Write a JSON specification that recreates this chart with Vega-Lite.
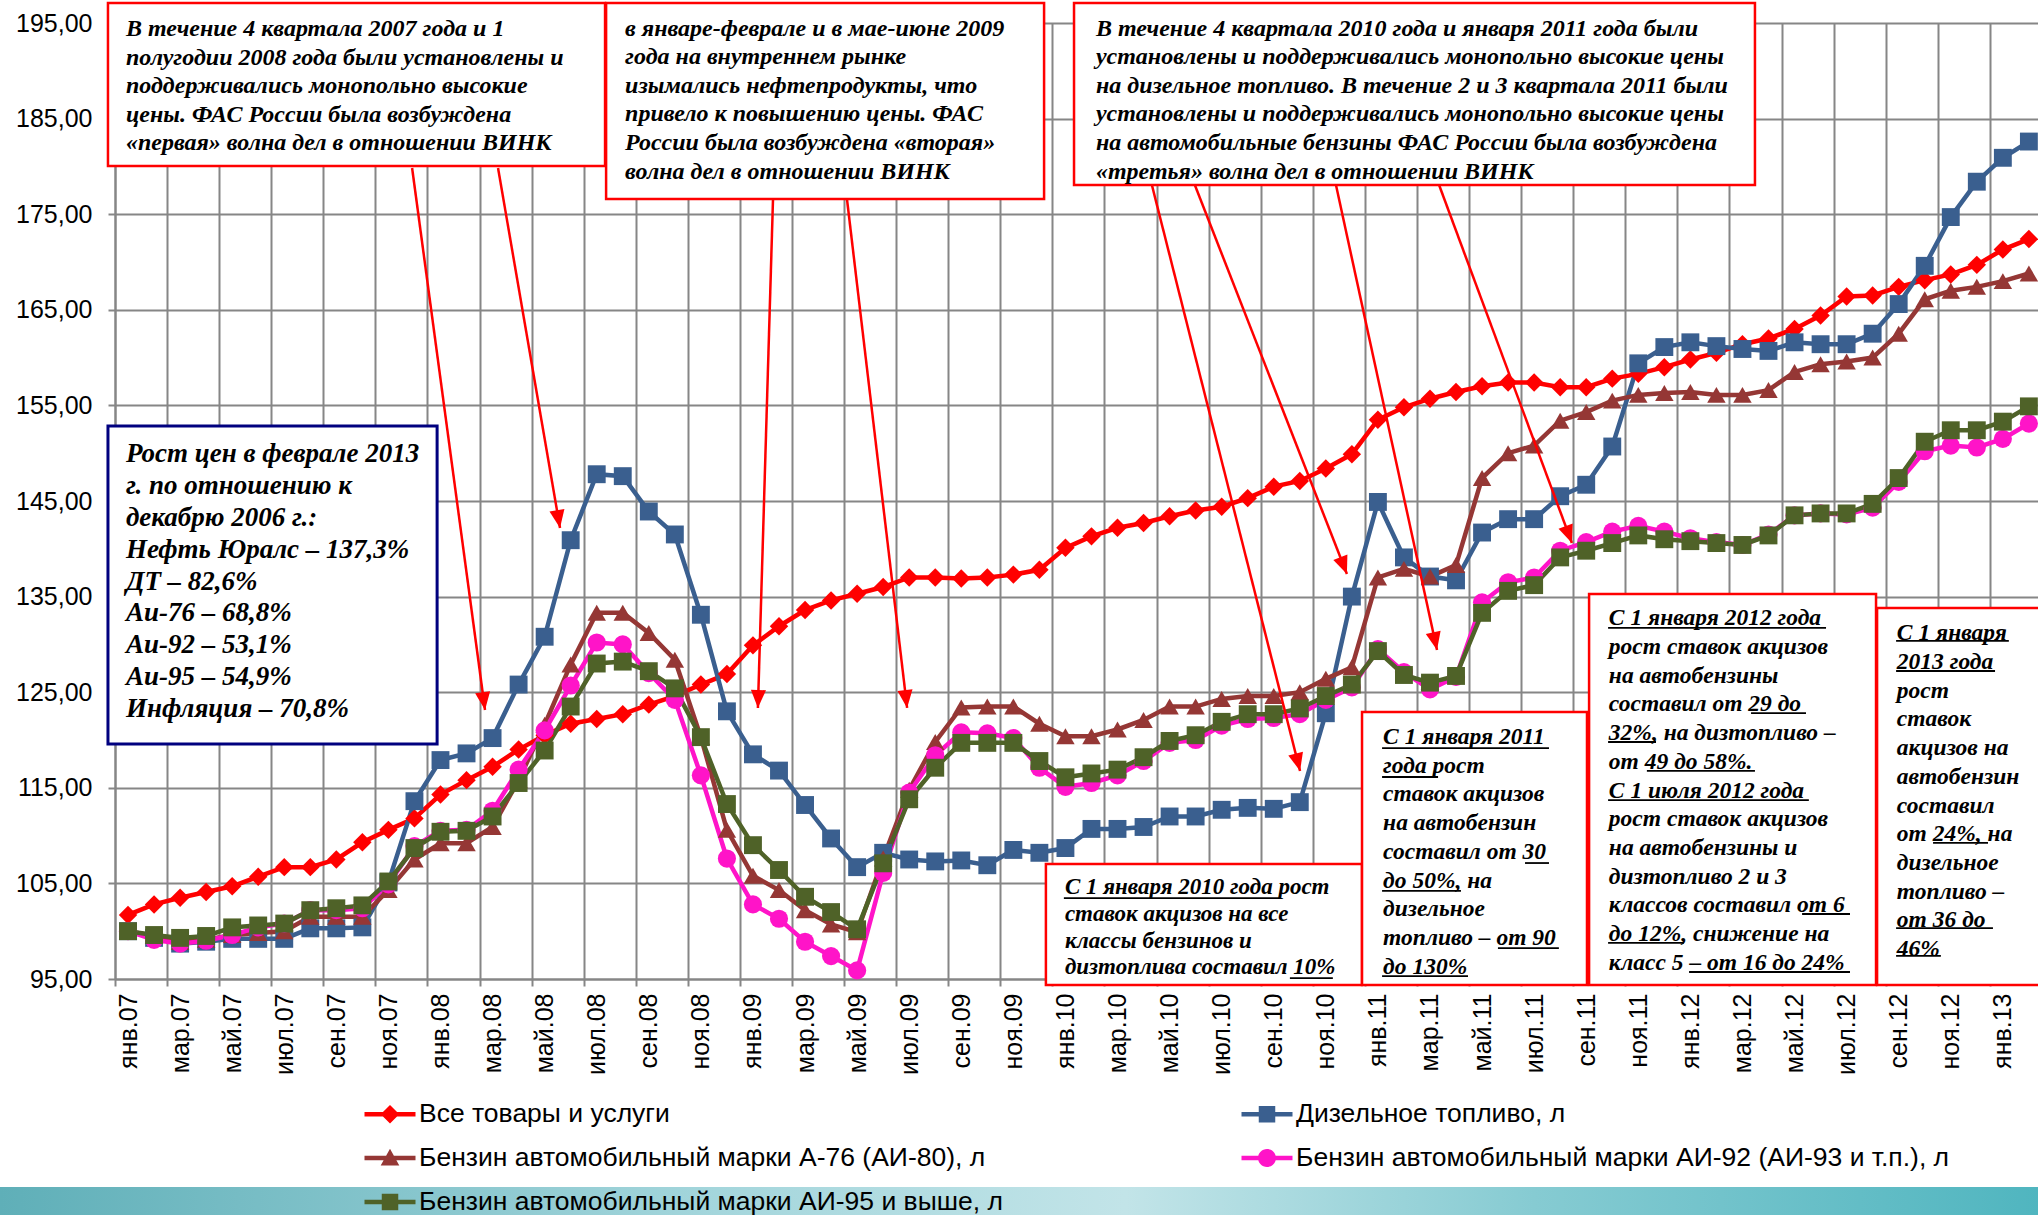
{
  "$schema": "https://vega.github.io/schema/vega-lite/v6.json",
  "width": 1923,
  "height": 956,
  "autosize": "none",
  "padding": {"left": 115, "top": 23, "right": 0, "bottom": 236},
  "background": "white",
  "config": {
    "view": {"stroke": null},
    "font": "Liberation Sans",
    "legend": {
      "orient": "none", "legendX": 260, "legendY": 1076, "columns": 2,
      "columnPadding": 238, "rowPadding": 15, "symbolSize": 900, "labelOffset": 14,
      "labelFontSize": 26.5, "labelFont": "Liberation Sans", "labelColor": "black",
      "padding": 0, "labelLimit": 1000, "zindex": 2
    }
  },
  "datasets": {
    "names": [
      {"k": "cpi", "name": "Все товары и услуги", "z": 0},
      {"k": "dt", "name": "Дизельное топливо, л", "z": 1},
      {"k": "a76", "name": "Бензин автомобильный марки А-76 (АИ-80), л", "z": 2},
      {"k": "a92", "name": "Бензин автомобильный марки АИ-92 (АИ-93 и т.п.), л", "z": 3},
      {"k": "a95", "name": "Бензин автомобильный марки АИ-95 и выше, л", "z": 4}
    ],
    "prices": [
      {"x":0,"cpi":101.7,"dt":100.0,"a76":100.0,"a92":100.0,"a95":100.0},
      {"x":1,"cpi":102.8,"dt":99.3,"a76":99.5,"a92":99.1,"a95":99.6},
      {"x":2,"cpi":103.5,"dt":98.7,"a76":98.9,"a92":98.7,"a95":99.3},
      {"x":3,"cpi":104.1,"dt":98.9,"a76":99.1,"a92":99.0,"a95":99.5},
      {"x":4,"cpi":104.7,"dt":99.2,"a76":99.6,"a92":99.6,"a95":100.4},
      {"x":5,"cpi":105.7,"dt":99.2,"a76":99.8,"a92":100.4,"a95":100.6},
      {"x":6,"cpi":106.7,"dt":99.2,"a76":100.0,"a92":100.8,"a95":100.8},
      {"x":7,"cpi":106.7,"dt":100.3,"a76":101.5,"a92":102.2,"a95":102.2},
      {"x":8,"cpi":107.5,"dt":100.3,"a76":101.5,"a92":102.2,"a95":102.4},
      {"x":9,"cpi":109.3,"dt":100.4,"a76":101.5,"a92":102.4,"a95":102.7},
      {"x":10,"cpi":110.6,"dt":105.1,"a76":104.3,"a92":104.9,"a95":105.2},
      {"x":11,"cpi":111.8,"dt":113.6,"a76":107.5,"a92":108.9,"a95":108.7},
      {"x":12,"cpi":114.3,"dt":117.9,"a76":109.2,"a92":110.5,"a95":110.4},
      {"x":13,"cpi":115.8,"dt":118.6,"a76":109.2,"a92":110.6,"a95":110.5},
      {"x":14,"cpi":117.2,"dt":120.2,"a76":110.9,"a92":112.6,"a95":112.0},
      {"x":15,"cpi":119.0,"dt":125.8,"a76":115.8,"a92":116.9,"a95":115.5},
      {"x":16,"cpi":120.5,"dt":130.8,"a76":121.6,"a92":121.0,"a95":118.9},
      {"x":17,"cpi":121.7,"dt":140.9,"a76":127.9,"a92":125.7,"a95":123.5},
      {"x":18,"cpi":122.2,"dt":147.8,"a76":133.3,"a92":130.2,"a95":128.0},
      {"x":19,"cpi":122.7,"dt":147.6,"a76":133.3,"a92":130.0,"a95":128.2},
      {"x":20,"cpi":123.7,"dt":143.9,"a76":131.2,"a92":127.0,"a95":127.2},
      {"x":21,"cpi":124.6,"dt":141.5,"a76":128.4,"a92":124.2,"a95":125.4},
      {"x":22,"cpi":125.8,"dt":133.1,"a76":120.3,"a92":116.3,"a95":120.3},
      {"x":23,"cpi":126.9,"dt":123.0,"a76":110.6,"a92":107.6,"a95":113.3},
      {"x":24,"cpi":129.9,"dt":118.5,"a76":105.8,"a92":102.8,"a95":109.0},
      {"x":25,"cpi":131.9,"dt":116.8,"a76":104.3,"a92":101.3,"a95":106.4},
      {"x":26,"cpi":133.6,"dt":113.2,"a76":102.2,"a92":98.9,"a95":103.6},
      {"x":27,"cpi":134.6,"dt":109.7,"a76":100.7,"a92":97.4,"a95":102.0},
      {"x":28,"cpi":135.3,"dt":106.7,"a76":99.9,"a92":95.9,"a95":100.2},
      {"x":29,"cpi":136.0,"dt":108.2,"a76":107.6,"a92":106.1,"a95":107.1},
      {"x":30,"cpi":137.0,"dt":107.5,"a76":114.8,"a92":114.5,"a95":113.8},
      {"x":31,"cpi":137.0,"dt":107.3,"a76":119.8,"a92":118.4,"a95":117.1},
      {"x":32,"cpi":136.9,"dt":107.4,"a76":123.4,"a92":120.8,"a95":119.7},
      {"x":33,"cpi":137.0,"dt":106.9,"a76":123.5,"a92":120.7,"a95":119.7},
      {"x":34,"cpi":137.3,"dt":108.5,"a76":123.5,"a92":120.2,"a95":119.7},
      {"x":35,"cpi":137.8,"dt":108.2,"a76":121.7,"a92":117.1,"a95":117.8},
      {"x":36,"cpi":140.1,"dt":108.7,"a76":120.4,"a92":115.1,"a95":116.1},
      {"x":37,"cpi":141.3,"dt":110.7,"a76":120.4,"a92":115.5,"a95":116.5},
      {"x":38,"cpi":142.2,"dt":110.7,"a76":121.1,"a92":116.3,"a95":116.9},
      {"x":39,"cpi":142.7,"dt":110.9,"a76":122.1,"a92":117.8,"a95":118.2},
      {"x":40,"cpi":143.4,"dt":112.0,"a76":123.5,"a92":119.7,"a95":119.9},
      {"x":41,"cpi":144.0,"dt":112.0,"a76":123.5,"a92":120.0,"a95":120.5},
      {"x":42,"cpi":144.4,"dt":112.7,"a76":124.3,"a92":121.5,"a95":121.9},
      {"x":43,"cpi":145.3,"dt":112.9,"a76":124.6,"a92":122.2,"a95":122.7},
      {"x":44,"cpi":146.5,"dt":112.8,"a76":124.6,"a92":122.3,"a95":122.7},
      {"x":45,"cpi":147.1,"dt":113.5,"a76":125.0,"a92":122.7,"a95":123.3},
      {"x":46,"cpi":148.4,"dt":122.8,"a76":126.4,"a92":124.2,"a95":124.6},
      {"x":47,"cpi":149.9,"dt":135.0,"a76":127.6,"a92":125.5,"a95":125.8},
      {"x":48,"cpi":153.5,"dt":144.9,"a76":137.0,"a92":129.5,"a95":129.3},
      {"x":49,"cpi":154.8,"dt":139.1,"a76":137.9,"a92":127.1,"a95":126.8},
      {"x":50,"cpi":155.7,"dt":137.1,"a76":137.1,"a92":125.3,"a95":126.0},
      {"x":51,"cpi":156.4,"dt":136.7,"a76":138.3,"a92":126.6,"a95":126.7},
      {"x":52,"cpi":157.0,"dt":141.7,"a76":147.4,"a92":134.4,"a95":133.3},
      {"x":53,"cpi":157.4,"dt":143.1,"a76":150.0,"a92":136.5,"a95":135.6},
      {"x":54,"cpi":157.4,"dt":143.1,"a76":150.8,"a92":137.0,"a95":136.2},
      {"x":55,"cpi":156.9,"dt":145.5,"a76":153.4,"a92":139.8,"a95":139.1},
      {"x":56,"cpi":156.9,"dt":146.7,"a76":154.3,"a92":140.7,"a95":139.8},
      {"x":57,"cpi":157.8,"dt":150.7,"a76":155.5,"a92":141.8,"a95":140.6},
      {"x":58,"cpi":158.3,"dt":159.4,"a76":156.1,"a92":142.4,"a95":141.4},
      {"x":59,"cpi":159.0,"dt":161.1,"a76":156.3,"a92":141.8,"a95":141.0},
      {"x":60,"cpi":159.8,"dt":161.6,"a76":156.4,"a92":141.1,"a95":140.8},
      {"x":61,"cpi":160.5,"dt":161.2,"a76":156.1,"a92":140.7,"a95":140.6},
      {"x":62,"cpi":161.4,"dt":160.9,"a76":156.1,"a92":140.4,"a95":140.4},
      {"x":63,"cpi":162.0,"dt":160.7,"a76":156.6,"a92":141.5,"a95":141.4},
      {"x":64,"cpi":163.0,"dt":161.6,"a76":158.5,"a92":143.5,"a95":143.5},
      {"x":65,"cpi":164.4,"dt":161.4,"a76":159.3,"a92":143.7,"a95":143.7},
      {"x":66,"cpi":166.4,"dt":161.4,"a76":159.6,"a92":143.6,"a95":143.7},
      {"x":67,"cpi":166.5,"dt":162.5,"a76":160.0,"a92":144.3,"a95":144.7},
      {"x":68,"cpi":167.4,"dt":165.6,"a76":162.5,"a92":147.0,"a95":147.4},
      {"x":69,"cpi":168.1,"dt":169.6,"a76":166.1,"a92":150.2,"a95":151.2},
      {"x":70,"cpi":168.7,"dt":174.7,"a76":167.0,"a92":150.8,"a95":152.4},
      {"x":71,"cpi":169.7,"dt":178.4,"a76":167.4,"a92":150.6,"a95":152.4},
      {"x":72,"cpi":171.3,"dt":180.9,"a76":168.0,"a92":151.5,"a95":153.3},
      {"x":73,"cpi":172.4,"dt":182.6,"a76":168.8,"a92":153.1,"a95":154.9}
    ],
    "band": [
      {"x": -4.92, "x2": 73.66, "y": 73.24, "y2": 69.5}
    ],
    "boxes": [
      {"k": "b1", "x": -0.77, "x2": 18.32, "y": 197.09, "y2": 180.04},
      {"k": "b2", "x": 18.36, "x2": 35.18, "y": 197.09, "y2": 176.59},
      {"k": "b3", "x": 36.33, "x2": 62.48, "y": 197.09, "y2": 178.05},
      {"k": "stat", "x": -0.77, "x2": 11.87, "y": 152.85, "y2": 119.58},
      {"k": "b5", "x": 35.25, "x2": 47.39, "y": 107.03, "y2": 94.37},
      {"k": "b6", "x": 47.39, "x2": 56.03, "y": 122.93, "y2": 94.37},
      {"k": "b7", "x": 56.11, "x2": 67.13, "y": 135.27, "y2": 94.37},
      {"k": "b8", "x": 67.17, "x2": 73.66, "y": 133.81, "y2": 94.37}
    ],
    "arrows": [
      {"x": 10.91, "y": 179.83, "x2": 13.71, "y2": 123.14},
      {"x": 14.21, "y": 179.83, "x2": 16.59, "y2": 142.18},
      {"x": 24.77, "y": 176.59, "x2": 24.19, "y2": 123.35},
      {"x": 27.61, "y": 176.59, "x2": 29.92, "y2": 123.35},
      {"x": 39.32, "y": 178.05, "x2": 45.01, "y2": 116.76},
      {"x": 40.97, "y": 178.05, "x2": 46.81, "y2": 137.36},
      {"x": 46.39, "y": 178.05, "x2": 50.27, "y2": 129.41},
      {"x": 50.35, "y": 178.05, "x2": 55.45, "y2": 140.61}
    ],
    "underlines": [
      {"x": 35.94, "x2": 44.20, "y": 103.47},
      {"x": 44.62, "x2": 46.27, "y": 95.10},
      {"x": 48.16, "x2": 54.57, "y": 119.16},
      {"x": 48.16, "x2": 50.31, "y": 116.13},
      {"x": 53.65, "x2": 54.57, "y": 107.13},
      {"x": 48.16, "x2": 51.19, "y": 104.21},
      {"x": 52.61, "x2": 54.95, "y": 98.24},
      {"x": 48.16, "x2": 51.46, "y": 95.31},
      {"x": 56.84, "x2": 65.21, "y": 131.72},
      {"x": 62.33, "x2": 64.44, "y": 122.82},
      {"x": 56.84, "x2": 58.68, "y": 119.79},
      {"x": 58.33, "x2": 62.48, "y": 116.76},
      {"x": 56.84, "x2": 64.55, "y": 113.72},
      {"x": 64.29, "x2": 66.13, "y": 101.80},
      {"x": 56.84, "x2": 59.75, "y": 98.77},
      {"x": 59.95, "x2": 66.13, "y": 95.73},
      {"x": 67.90, "x2": 72.23, "y": 130.36},
      {"x": 67.90, "x2": 71.70, "y": 127.22},
      {"x": 69.32, "x2": 71.43, "y": 109.23},
      {"x": 67.90, "x2": 71.62, "y": 100.33},
      {"x": 67.90, "x2": 69.62, "y": 97.41}
    ],
    "notes": [
      {"g": "top", "x": -0.08, "y": 194.37, "t": "В течение 4 квартала 2007 года и 1\nполугодии 2008 года были установлены и\nподдерживались монопольно высокие\nцены. ФАС России была возбуждена\n«первая» волна дел в отношении ВИНК"},
      {"g": "top", "x": 19.09, "y": 194.41, "t": "в январе-феврале и в мае-июне 2009\nгода на внутреннем рынке\nизымались нефтепродукты, что\nпривело к повышению цены. ФАС\nРоссии была возбуждена  «вторая»\nволна дел в отношении ВИНК"},
      {"g": "top", "x": 37.17, "y": 194.41, "t": "В течение 4 квартала 2010 года и января 2011 года были\nустановлены и поддерживались монопольно высокие цены\nна дизельное топливо. В течение 2 и 3 квартала 2011 были\nустановлены и поддерживались монопольно высокие цены\nна автомобильные бензины ФАС России была возбуждена\n«третья» волна дел в отношении ВИНК"},
      {"g": "stat", "x": -0.08, "y": 149.92, "t": "Рост цен в феврале 2013\nг. по отношению к\nдекабрю 2006 г.:\nНефть Юралс – 137,3%\nДТ – 82,6%\nАи-76 – 68,8%\nАи-92 – 53,1%\nАи-95 – 54,9%\nИнфляция – 70,8%"},
      {"g": "low5", "x": 35.98, "y": 104.62, "t": "С 1 января 2010 года рост\nставок акцизов на все\nклассы бензинов и\nдизтоплива составил 10%"},
      {"g": "low", "x": 48.2, "y": 120.31, "t": "С 1 января 2011\nгода  рост\nставок акцизов\nна автобензин\nсоставил от 30\nдо 50%, на\nдизельное\nтопливо – от 90\nдо 130%"},
      {"g": "low", "x": 56.87, "y": 132.72, "t": "С 1 января 2012 года\nрост ставок акцизов\nна автобензины\nсоставил от 29 до\n32%, на дизтопливо –\nот 49 до 58%.\nС 1 июля 2012 года\nрост ставок акцизов\nна автобензины и\nдизтопливо 2 и 3\nклассов составил от 6\nдо 12%, снижение на\nкласс 5 – от 16 до 24%"},
      {"g": "low", "x": 67.93, "y": 131.15, "t": "С 1 января\n2013 года\nрост\nставок\nакцизов на\nавтобензин\nсоставил\nот 24%, на\nдизельное\nтопливо –\nот  36 до\n46%"}
    ]
  },
  "encoding": {
    "x": {
      "field": "x", "type": "quantitative", "title": null,
      "scale": {"domain": [-0.5, 73.35], "nice": false, "zero": false},
      "axis": {
        "values": [0,2,4,6,8,10,12,14,16,18,20,22,24,26,28,30,32,34,36,38,40,42,44,46,48,50,52,54,56,58,60,62,64,66,68,70,72],
        "labelExpr": "['янв.','мар.','май.','июл.','сен.','ноя.'][(datum.value % 12) / 2] + (floor(datum.value / 12) + 7 < 10 ? '0' : '') + (floor(datum.value / 12) + 7)",
        "labelAngle": -90, "labelFontSize": 25, "labelColor": "black", "labelFont": "Liberation Sans",
        "tickOffset": -13.02, "labelOffset": 13.02, "labelPadding": 7,
        "grid": true, "gridColor": "#868686", "gridWidth": 2,
        "domainColor": "#868686", "domainWidth": 2, "tickColor": "#868686", "tickWidth": 2, "tickSize": 7,
        "labelOverlap": false, "labelFlush": false, "labelBound": false
      }
    },
    "y": {
      "field": "y", "type": "quantitative", "title": null,
      "scale": {"domain": [95, 195], "nice": false, "zero": false},
      "axis": {
        "values": [95,105,115,125,135,145,155,165,175,185,195],
        "labelExpr": "replace(format(datum.value, '.2f'), '.', ',')",
        "labelFontSize": 25, "labelColor": "black", "labelFont": "Liberation Sans", "labelPadding": 16,
        "grid": true, "gridColor": "#868686", "gridWidth": 2,
        "domainColor": "#868686", "domainWidth": 2, "tickColor": "#868686", "tickWidth": 2, "tickSize": 7,
        "labelOverlap": false, "labelFlush": false, "labelBound": false
      }
    }
  },
  "layer": [
    {
      "data": {"name": "band"},
      "mark": {
        "type": "rect", "clip": false, "strokeWidth": 0,
        "fill": {"gradient": "linear", "x1": 0, "y1": 0, "x2": 1, "y2": 0,
          "stops": [
            {"offset": 0, "color": "#5FAFB8"},
            {"offset": 0.35, "color": "#A4D6DC"},
            {"offset": 0.55, "color": "#C2E4E8"},
            {"offset": 0.75, "color": "#86CBD2"},
            {"offset": 1, "color": "#4FB5BF"}
          ]}
      },
      "encoding": {
        "x2": {"field": "x2"},
        "y2": {"field": "y2"}
      }
    },
    {
      "data": {"name": "boxes"},
      "mark": {"type": "rect", "fill": "white", "clip": false},
      "encoding": {
        "x2": {"field": "x2"},
        "y2": {"field": "y2"},
        "stroke": {"condition": {"test": "datum.k === 'stat'", "value": "#00007F"}, "value": "#FF0000"},
        "strokeWidth": {"condition": {"test": "datum.k === 'stat'", "value": 3}, "value": 2.5}
      }
    },
    {
      "data": {"name": "prices"},
      "transform": [
        {"fold": ["cpi", "dt", "a76", "a92", "a95"], "as": ["k", "y"]},
        {"lookup": "k", "from": {"data": {"name": "names"}, "key": "k", "fields": ["name", "z"]}}
      ],
      "encoding": {
        "color": {
          "field": "name", "type": "nominal",
          "scale": {
            "domain": ["Все товары и услуги", "Бензин автомобильный марки А-76 (АИ-80), л", "Бензин автомобильный марки АИ-95 и выше, л", "Дизельное топливо, л", "Бензин автомобильный марки АИ-92 (АИ-93 и т.п.), л"],
            "range": ["#FF0000", "#953735", "#4F6228", "#3A5F8F", "#FF14C8"]
          },
          "legend": {
            "title": null,
            "encode": {"symbols": {"update": {
              "shape": {"signal": "indexof(datum.value, 'Все') === 0 ? 'M-1.7,-0.15H1.7V0.15H-1.7Z M0,-0.62L0.62,0L0,0.62L-0.62,0Z' : indexof(datum.value, 'А-76') >= 0 ? 'M-1.7,-0.15H1.7V0.15H-1.7Z M0,-0.62L0.62,0.5H-0.62Z' : indexof(datum.value, 'АИ-92') >= 0 ? 'M-1.7,-0.15H1.7V0.15H-1.7Z M-0.6,0A0.6,0.6 0 1,1 0.6,0A0.6,0.6 0 1,1 -0.6,0Z' : 'M-1.7,-0.15H1.7V0.15H-1.7Z M-0.55,-0.55H0.55V0.55H-0.55Z'"},
              "fill": {"signal": "scale('color', datum.value)"},
              "stroke": {"value": "transparent"},
              "strokeWidth": {"value": 0},
              "opacity": {"value": 1}
            }}}
          }
        }
      },
      "layer": [
        {"mark": {"type": "line", "strokeWidth": 4.5}},
        {"transform": [{"filter": "datum.k === 'cpi'"}], "mark": {"type": "point", "shape": "diamond", "filled": true, "opacity": 1, "size": 340, "strokeWidth": 0}},
        {"transform": [{"filter": "datum.k === 'dt'"}], "mark": {"type": "point", "shape": "square", "filled": true, "opacity": 1, "size": 320, "strokeWidth": 0}},
        {"transform": [{"filter": "datum.k === 'a76'"}], "mark": {"type": "point", "shape": "triangle-up", "filled": true, "opacity": 1, "size": 340, "strokeWidth": 0}},
        {"transform": [{"filter": "datum.k === 'a92'"}], "mark": {"type": "point", "shape": "circle", "filled": true, "opacity": 1, "size": 330, "strokeWidth": 0}},
        {"transform": [{"filter": "datum.k === 'a95'"}], "mark": {"type": "point", "shape": "square", "filled": true, "opacity": 1, "size": 320, "strokeWidth": 0}}
      ]
    },
    {
      "data": {"name": "arrows"},
      "mark": {"type": "rule", "color": "#FF0000", "strokeWidth": 2.5, "clip": false},
      "encoding": {
        "x2": {"field": "x2"},
        "y2": {"field": "y2"}
      }
    },
    {
      "data": {"name": "arrows"},
      "transform": [
        {"calculate": "atan2(-(datum.x2 - datum.x) * 26.04, -(datum.y2 - datum.y) * 9.56) * 180 / PI", "as": "ang"}
      ],
      "mark": {"type": "point", "filled": true, "color": "#FF0000", "opacity": 1, "strokeWidth": 0, "shape": "M0,0L-0.42,-1L0.42,-1Z", "size": 1296, "clip": false},
      "encoding": {
        "x": {"field": "x2", "type": "quantitative", "title": null},
        "y": {"field": "y2", "type": "quantitative", "title": null},
        "angle": {"field": "ang", "type": "quantitative", "scale": null}
      }
    },
    {
      "data": {"name": "notes"},
      "transform": [{"filter": "datum.g === 'top'"}],
      "mark": {"type": "text", "align": "left", "baseline": "middle", "lineBreak": "\n", "lineHeight": 28.6, "font": "Liberation Serif", "fontStyle": "italic", "fontWeight": "bold", "fontSize": 24, "color": "black", "clip": false},
      "encoding": {"text": {"field": "t"}}
    },
    {
      "data": {"name": "notes"},
      "transform": [{"filter": "datum.g === 'stat'"}],
      "mark": {"type": "text", "align": "left", "baseline": "middle", "lineBreak": "\n", "lineHeight": 31.9, "font": "Liberation Serif", "fontStyle": "italic", "fontWeight": "bold", "fontSize": 27, "color": "black", "clip": false},
      "encoding": {"text": {"field": "t"}}
    },
    {
      "data": {"name": "notes"},
      "transform": [{"filter": "datum.g === 'low5'"}],
      "mark": {"type": "text", "align": "left", "baseline": "middle", "lineBreak": "\n", "lineHeight": 26.8, "font": "Liberation Serif", "fontStyle": "italic", "fontWeight": "bold", "fontSize": 23, "color": "black", "clip": false},
      "encoding": {"text": {"field": "t"}}
    },
    {
      "data": {"name": "notes"},
      "transform": [{"filter": "datum.g === 'low'"}],
      "mark": {"type": "text", "align": "left", "baseline": "middle", "lineBreak": "\n", "lineHeight": 28.7, "font": "Liberation Serif", "fontStyle": "italic", "fontWeight": "bold", "fontSize": 23.5, "color": "black", "clip": false},
      "encoding": {"text": {"field": "t"}}
    },
    {
      "data": {"name": "underlines"},
      "mark": {"type": "rule", "color": "black", "strokeWidth": 1.8, "clip": false},
      "encoding": {
        "x2": {"field": "x2"}
      }
    }
  ]
}
